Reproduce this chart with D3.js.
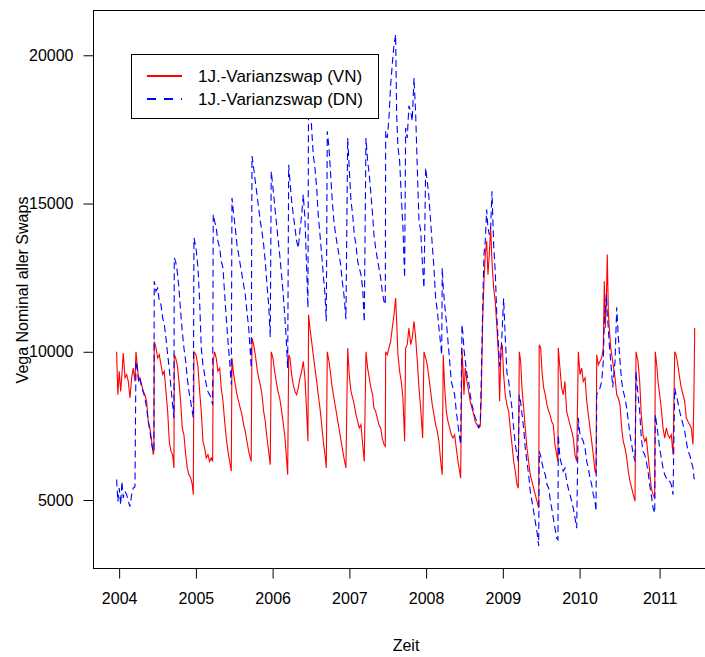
<!DOCTYPE html>
<html><head><meta charset="utf-8">
<script src="https://d3js.org/d3.v7.min.js"></script>
<style>html,body{margin:0;padding:0;background:#fff;}svg{display:block;}text{font-family:"Liberation Sans",Arial,sans-serif;fill:#000;}</style>
</head><body>
<script>
const years = [2003.967,2003.983,2004.001,2004.020,2004.036,2004.053,2004.076,2004.098,2004.119,2004.141,2004.163,2004.184,2004.206,2004.219,2004.236,2004.254,2004.271,2004.293,2004.314,2004.336,2004.358,2004.379,2004.401,2004.424,2004.444,2004.453,2004.457,2004.480,2004.502,2004.523,2004.545,2004.567,2004.588,2004.610,2004.632,2004.653,2004.675,2004.697,2004.714,2004.718,2004.736,2004.757,2004.779,2004.801,2004.822,2004.844,2004.867,2004.887,2004.910,2004.932,2004.953,2004.966,2004.975,2005.001,2005.027,2005.049,2005.070,2005.092,2005.114,2005.135,2005.157,2005.179,2005.200,2005.218,2005.226,2005.244,2005.265,2005.287,2005.310,2005.330,2005.353,2005.375,2005.396,2005.418,2005.440,2005.461,2005.470,2005.492,2005.513,2005.535,2005.557,2005.578,2005.600,2005.622,2005.643,2005.665,2005.688,2005.708,2005.721,2005.731,2005.753,2005.774,2005.796,2005.818,2005.839,2005.861,2005.883,2005.904,2005.926,2005.948,2005.969,2005.982,2006.004,2006.026,2006.047,2006.069,2006.092,2006.112,2006.135,2006.157,2006.174,2006.196,2006.209,2006.226,2006.248,2006.269,2006.291,2006.313,2006.334,2006.356,2006.378,2006.399,2006.421,2006.443,2006.460,2006.469,2006.486,2006.508,2006.529,2006.551,2006.574,2006.594,2006.617,2006.639,2006.660,2006.682,2006.699,2006.712,2006.734,2006.756,2006.777,2006.799,2006.821,2006.842,2006.864,2006.886,2006.907,2006.929,2006.955,2006.978,2006.998,2007.021,2007.043,2007.064,2007.086,2007.108,2007.129,2007.151,2007.173,2007.194,2007.216,2007.238,2007.259,2007.281,2007.303,2007.320,2007.342,2007.363,2007.385,2007.408,2007.428,2007.451,2007.468,2007.473,2007.494,2007.516,2007.538,2007.559,2007.581,2007.603,2007.616,2007.633,2007.655,2007.676,2007.698,2007.720,2007.733,2007.754,2007.776,2007.799,2007.819,2007.842,2007.864,2007.885,2007.907,2007.929,2007.955,2007.972,2007.994,2008.015,2008.037,2008.059,2008.080,2008.102,2008.124,2008.145,2008.167,2008.190,2008.203,2008.210,2008.223,2008.242,2008.263,2008.285,2008.307,2008.328,2008.350,2008.372,2008.393,2008.415,2008.437,2008.450,2008.467,2008.480,2008.493,2008.510,2008.532,2008.554,2008.575,2008.597,2008.620,2008.640,2008.663,2008.685,2008.706,2008.719,2008.737,2008.754,2008.771,2008.789,2008.806,2008.823,2008.841,2008.858,2008.880,2008.901,2008.923,2008.945,2008.958,2008.975,2008.992,2009.010,2009.031,2009.053,2009.076,2009.096,2009.119,2009.141,2009.162,2009.184,2009.201,2009.214,2009.232,2009.249,2009.271,2009.292,2009.314,2009.336,2009.357,2009.379,2009.401,2009.422,2009.444,2009.467,2009.474,2009.493,2009.510,2009.532,2009.553,2009.575,2009.597,2009.614,2009.636,2009.657,2009.679,2009.701,2009.718,2009.722,2009.744,2009.766,2009.787,2009.809,2009.831,2009.852,2009.874,2009.897,2009.917,2009.940,2009.962,2009.983,2010.005,2010.026,2010.046,2010.068,2010.089,2010.109,2010.130,2010.151,2010.171,2010.193,2010.205,2010.214,2010.234,2010.255,2010.276,2010.296,2010.309,2010.321,2010.334,2010.346,2010.359,2010.371,2010.389,2010.414,2010.443,2010.464,2010.484,2010.505,2010.526,2010.546,2010.568,2010.589,2010.609,2010.630,2010.651,2010.671,2010.693,2010.705,2010.730,2010.751,2010.771,2010.793,2010.814,2010.834,2010.855,2010.876,2010.896,2010.918,2010.939,2010.946,2010.964,2010.980,2011.001,2011.021,2011.043,2011.064,2011.084,2011.105,2011.126,2011.146,2011.168,2011.189,2011.205,2011.221,2011.251,2011.271,2011.293,2011.314,2011.334,2011.355,2011.376,2011.396,2011.418,2011.430,2011.439];

const vn = [10000,8550,9340,8660,9230,9960,9120,9230,9000,8440,9120,9450,9000,10000,9560,9000,9120,8890,8660,8550,8330,7650,7430,6980,6530,6640,10350,10130,9790,9900,9560,9230,9340,8660,7990,6980,6640,6530,6080,9900,9790,9560,9000,8330,7430,7200,6530,6080,5850,5740,5520,5180,10000,9900,9500,8660,7990,6980,6750,6420,6530,6300,6420,6300,9680,10000,9790,9340,9450,8780,8330,7650,7090,6640,6300,5970,9790,9230,8890,8550,8330,8100,7880,7540,7320,6980,6640,6420,6300,10460,10240,9900,9450,9120,8890,8550,7990,7650,7090,6640,6190,10000,9790,9340,9000,8660,8440,8100,7650,7200,6640,5850,9900,9790,9230,8890,8660,8550,8780,9120,9340,9680,9120,7990,6980,11250,10800,10350,9900,9450,9000,8550,8100,7540,6980,6530,6080,10000,9680,9230,8780,8440,8100,7770,7430,7090,6750,6420,6080,10130,9230,8660,8440,8210,7880,7650,7430,7540,6870,6300,10000,9450,9120,8780,8550,8100,7990,7770,7540,7430,7090,6870,6810,10000,9900,10130,10350,10800,11250,11810,11030,9900,9340,9000,8440,6980,10130,10240,10800,10240,10460,11030,10460,9680,8780,8100,7090,10000,9790,9560,9120,8660,8210,7880,7540,7320,6980,6300,6000,5850,9900,8780,7990,7650,7430,7200,7090,7200,6750,6300,5970,5740,10130,9450,8550,9450,9000,8660,8330,8100,7880,7650,7540,7430,7490,8550,11030,12380,13280,13730,12600,13280,14180,13050,12150,11700,10800,9790,8330,10130,10240,9230,8550,8210,7990,7430,6870,6300,5970,5520,5400,10000,9680,8780,8100,7430,6750,6300,5850,5630,5400,5180,4960,4730,10240,10130,9340,8780,8550,8210,7990,7880,7650,7540,6870,6530,6300,10130,9450,8780,8550,9000,7990,7770,7540,7320,7090,6530,6300,10000,9230,9450,9000,9120,8330,7880,7430,6980,6530,5970,5900,9900,9560,9680,9790,10130,12380,10800,11700,13280,11360,10800,10130,9680,9120,8550,8440,8210,7430,6980,6750,6420,5970,5630,5400,5180,4960,10000,9680,9000,7880,7200,6980,7090,6530,5970,5400,5180,5070,10000,9560,9000,8550,8100,7430,7090,7430,7200,7090,7200,6530,10000,9900,9680,9120,8780,8550,8330,7770,7650,7540,7430,6870,8780,10800];

const dn = [5690,4950,5400,4840,5630,5070,5290,5180,4950,4780,5180,5400,5450,9680,9450,9000,9120,8780,8660,8440,8100,7650,7320,6870,6640,6640,12380,12040,12150,11700,11590,11140,10920,10460,9900,9450,8780,8210,7770,13160,13050,12710,12150,11360,10690,10130,9680,9120,8660,8330,7990,7770,13840,13500,12830,11700,10130,9560,9230,8890,8660,8550,8440,8210,14630,14400,14180,13730,13500,13050,12830,11930,11140,10350,9680,8890,15190,14630,14180,13610,13280,12940,12600,12260,11930,11360,10800,10020,9450,16600,16200,15750,15300,14850,14400,14060,13610,13050,12260,11590,10500,16090,15530,14960,14400,13840,13280,12710,12040,11250,10580,9450,16310,15750,15080,14630,14180,13730,13500,14100,14600,15300,14500,12830,11480,19800,18680,17550,16650,16200,15530,14630,13950,13280,12600,11930,11030,17440,16880,15980,15080,14400,13950,13610,13280,12940,12380,11930,11100,17210,16200,15080,14630,13950,13610,13050,12830,12600,12150,11000,17210,16430,15980,15300,14600,13950,13500,13160,12830,12490,12040,11700,11590,17440,17210,17900,19010,19690,20350,20700,18000,16900,16430,15300,14180,12500,17550,17210,18300,18100,17780,19240,18000,16200,14400,14100,12830,12150,16200,15750,15200,14400,13600,12830,11800,11400,10800,10240,9900,12830,12150,11590,11030,10350,9680,9000,8780,8550,8000,7540,7090,6870,10920,10600,10100,9700,9230,9000,8550,8210,7990,7770,7650,7430,7650,9120,11500,13280,13730,14800,14180,13950,14180,15410,13610,12700,11100,10130,9500,9900,10800,11800,10500,9300,9000,8550,8100,7430,6870,6530,6300,8550,8300,7900,7430,6750,6300,5850,5290,4960,4620,4280,3940,3450,6640,6500,6250,6000,5850,5520,5400,5070,4730,4390,4050,3720,3660,7200,6420,6190,5970,6080,5630,5400,5180,4960,4730,4390,4050,7770,7200,7090,6980,6750,6300,6080,5740,5520,5180,4960,4620,8550,8660,8780,9000,9680,11030,11360,11930,11250,10800,10240,9680,8800,9680,11500,10500,9680,9000,8660,8440,8100,7650,7200,6870,6530,6300,9340,8550,7990,7090,6640,6530,6300,5970,5520,5180,4730,4560,7880,7540,7200,6750,6420,6080,5850,5740,5630,5630,5520,5180,8780,8550,8400,7990,7770,7540,7320,6980,6640,6530,6300,6080,5740,5700];

const yTicks = [5000, 10000, 15000, 20000];
const xTicks = [2004, 2005, 2006, 2007, 2008, 2009, 2010, 2011];
const seriesNames = ["1J.-Varianzswap (VN)", "1J.-Varianzswap (DN)"];
const seriesColors = ["#ff0000", "#0000ff"];

const W = 705, H = 657;
const svg = d3.select("body").append("svg").attr("width", W).attr("height", H);

const x = d3.scaleLinear().domain([2003.667, 2010, 2011.74]).range([93.6, 579.6, 718.8]);
const y = d3.scaleLinear().domain([2673, 21494]).range([569, 11]);

const FS = 16;

// plot box
svg.append("rect").attr("x", 93.5).attr("y", 10.5).attr("width", 630).attr("height", 558)
  .attr("fill", "none").attr("stroke", "#000").attr("stroke-width", 1);

svg.append("clipPath").attr("id", "c").append("rect")
  .attr("x", 94).attr("y", 11).attr("width", 620).attr("height", 557);

const line = d3.line().x((d, i) => x(years[i])).y(d => y(d));
const g = svg.append("g").attr("clip-path", "url(#c)");
g.append("path").datum(vn).attr("d", line).attr("fill", "none")
  .attr("stroke", seriesColors[0]).attr("stroke-width", 1.1);
g.append("path").datum(dn).attr("d", line).attr("fill", "none")
  .attr("stroke", seriesColors[1]).attr("stroke-width", 1.1).attr("stroke-dasharray", "7,4");

// x axis
const xa = svg.append("g").attr("transform", "translate(0,568.5)")
  .call(d3.axisBottom(x).tickValues(xTicks).tickFormat(d3.format("d")).tickSize(10).tickPadding(14));
xa.select(".domain").remove();
xa.selectAll("line").attr("stroke", "#000");
xa.selectAll("text").attr("font-size", FS).style("font-family", '"Liberation Sans",Arial,sans-serif');

// y axis
const ya = svg.append("g").attr("transform", "translate(93.5,0)")
  .call(d3.axisLeft(y).tickValues(yTicks).tickFormat(d3.format("d")).tickSize(10).tickPadding(10));
ya.select(".domain").remove();
ya.selectAll("line").attr("stroke", "#000");
ya.selectAll("text").attr("font-size", FS).style("font-family", '"Liberation Sans",Arial,sans-serif');

// titles
svg.append("text").attr("x", 406).attr("y", 645).attr("dy", "0.35em").attr("text-anchor", "middle")
  .attr("font-size", FS).text("Zeit");
svg.append("text").attr("transform", "translate(22,290) rotate(-90)").attr("dy", "0.35em")
  .attr("text-anchor", "middle").attr("font-size", FS).text("Vega Nominal aller Swaps");

// legend
const lg = svg.append("g");
lg.append("rect").attr("x", 131.5).attr("y", 54.5).attr("width", 247).attr("height", 64)
  .attr("fill", "#fff").attr("stroke", "#000");
const rows = [76, 99];
seriesNames.forEach((n, i) => {
  lg.append("line").attr("x1", 147).attr("x2", 182).attr("y1", rows[i]).attr("y2", rows[i])
    .attr("stroke", seriesColors[i]).attr("stroke-width", 2)
    .attr("stroke-dasharray", i === 1 ? "9,8" : null);
  lg.append("text").attr("x", 198).attr("y", rows[i]).attr("dy", "0.35em").attr("font-size", 17).text(n);
});
</script>
</body></html>
